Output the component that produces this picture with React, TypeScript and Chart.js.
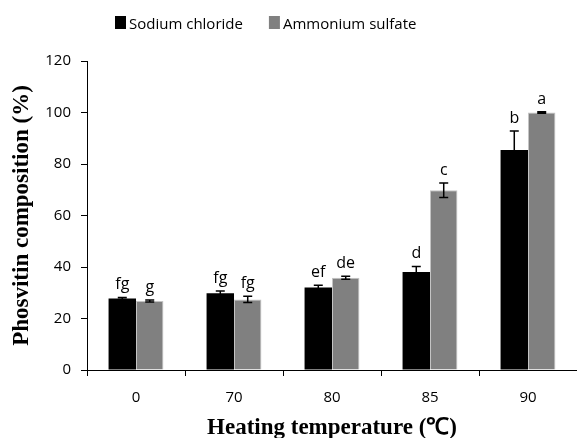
import React, { useEffect, useRef } from "react";
import { Chart, registerables } from "chart.js";

Chart.register(...registerables);

const categories = ["0", "70", "80", "85", "90"];
const seriesNames = ["Sodium chloride", "Ammonium sulfate"];
const sodiumValues = [27.8, 29.8, 32.0, 38.1, 85.4];
const sodiumErrors = [0.4, 0.9, 0.9, 2.1, 7.4];
const sodiumLetters = ["fg", "fg", "ef", "d", "b"];
const ammoniumValues = [26.8, 27.4, 35.8, 69.8, 100];
const ammoniumErrors = [0.4, 1.2, 0.6, 2.8, 0.3];
const ammoniumLetters = ["g", "fg", "de", "c", "a"];
const yTicks = [0, 20, 40, 60, 80, 100, 120];

const seriesColors = ["#000000", "#808080"];
const errors = [sodiumErrors, ammoniumErrors];
const letters = [sodiumLetters, ammoniumLetters];

const SANS = "'Open Sans', 'Noto Sans', sans-serif";
const SERIF = "'Liberation Serif', 'Times New Roman', serif";

const annotationPlugin = {
  id: "errorsAndLetters",
  afterDatasetsDraw(chart: any) {
    const ctx = chart.ctx;
    const yScale = chart.scales.y;
    chart.data.datasets.forEach((ds: any, di: number) => {
      const meta = chart.getDatasetMeta(di);
      meta.data.forEach((bar: any, i: number) => {
        const v = ds.data[i];
        const e = errors[di][i];
        const x = bar.x;
        const yTop = yScale.getPixelForValue(v + e);
        const yBot = yScale.getPixelForValue(v - e);
        ctx.save();
        ctx.strokeStyle = "#000";
        ctx.lineWidth = 1.5;
        ctx.beginPath();
        ctx.moveTo(x, yTop);
        ctx.lineTo(x, yBot);
        ctx.moveTo(x - 4.5, yTop);
        ctx.lineTo(x + 4.5, yTop);
        ctx.moveTo(x - 4.5, yBot);
        ctx.lineTo(x + 4.5, yBot);
        ctx.stroke();
        ctx.fillStyle = "#000";
        ctx.font = `16px ${SANS}`;
        ctx.textAlign = "center";
        ctx.textBaseline = "alphabetic";
        ctx.fillText(letters[di][i], x, yTop - 8);
        ctx.restore();
      });
    });
  },
};

const legendPlugin = {
  id: "customLegend",
  afterDraw(chart: any) {
    const ctx = chart.ctx;
    ctx.save();
    ctx.font = `15px ${SANS}`;
    ctx.textBaseline = "alphabetic";
    ctx.textAlign = "left";
    let x = 115;
    chart.data.datasets.forEach((ds: any, di: number) => {
      ctx.fillStyle = seriesColors[di];
      ctx.fillRect(x, 16, 11, 13);
      ctx.fillStyle = "#000";
      const tx = x + 14;
      ctx.fillText(ds.label, tx, 29);
      x = tx + ctx.measureText(ds.label).width + 26;
    });
    ctx.restore();
  },
};

export default function App() {
  const canvasRef = useRef<HTMLCanvasElement | null>(null);

  useEffect(() => {
    document.body.style.margin = "0";
    const canvas = canvasRef.current;
    if (!canvas) return;
    const chart = new Chart(canvas, {
      type: "bar",
      data: {
        labels: categories,
        datasets: [
          {
            label: seriesNames[0],
            data: sodiumValues,
            backgroundColor: seriesColors[0],
            borderWidth: 0,
            categoryPercentage: 0.56,
            barPercentage: 1,
          },
          {
            label: seriesNames[1],
            data: ammoniumValues,
            backgroundColor: seriesColors[1],
            borderColor: "#c4c4c4",
            borderWidth: 1,
            categoryPercentage: 0.56,
            barPercentage: 1,
          },
        ],
      },
      options: {
        responsive: false,
        animation: false,
        devicePixelRatio: 1,
        layout: { padding: { top: 61, left: 0, right: 0, bottom: 0 } },
        plugins: {
          legend: { display: false },
          tooltip: { enabled: false },
          title: { display: false },
        },
        scales: {
          x: {
            offset: true,
            grid: {
              display: true,
              offset: true,
              drawOnChartArea: false,
              drawTicks: true,
              tickLength: 6,
              color: "#000",
              lineWidth: 1,
            },
            border: { display: true, color: "#000", width: 1 },
            ticks: {
              color: "#000",
              font: { family: SANS, size: 15 },
              padding: 13,
            },
            title: {
              display: true,
              text: "Heating temperature (℃)",
              color: "#000",
              font: { family: SERIF, size: 23, weight: "bold", lineHeight: 1 },
              padding: { top: 0, bottom: -2 },
            },
            afterFit(scale: any) {
              scale.height = 68;
            },
          },
          y: {
            min: 0,
            max: 120,
            afterBuildTicks(scale: any) {
              scale.ticks = yTicks.map((v) => ({ value: v }));
            },
            grid: {
              display: true,
              drawOnChartArea: false,
              drawTicks: true,
              tickLength: 6,
              color: "#000",
              lineWidth: 1,
            },
            border: { display: true, color: "#000", width: 1 },
            ticks: {
              color: "#000",
              font: { family: SANS, size: 15 },
              padding: 10,
            },
            title: {
              display: true,
              text: "Phosvitin composition (%)",
              color: "#000",
              font: { family: SERIF, size: 23, weight: "bold", lineHeight: 1 },
              padding: { top: 11, bottom: 0 },
            },
            afterFit(scale: any) {
              scale.width = 87;
            },
          },
        },
      },
      plugins: [annotationPlugin, legendPlugin],
    } as any);
    return () => chart.destroy();
  }, []);

  return (
    <div style={{ position: "fixed", left: 0, top: 0, width: 577, height: 438, background: "#fff" }}>
      <canvas ref={canvasRef} width={577} height={438} style={{ display: "block" }} />
    </div>
  );
}
